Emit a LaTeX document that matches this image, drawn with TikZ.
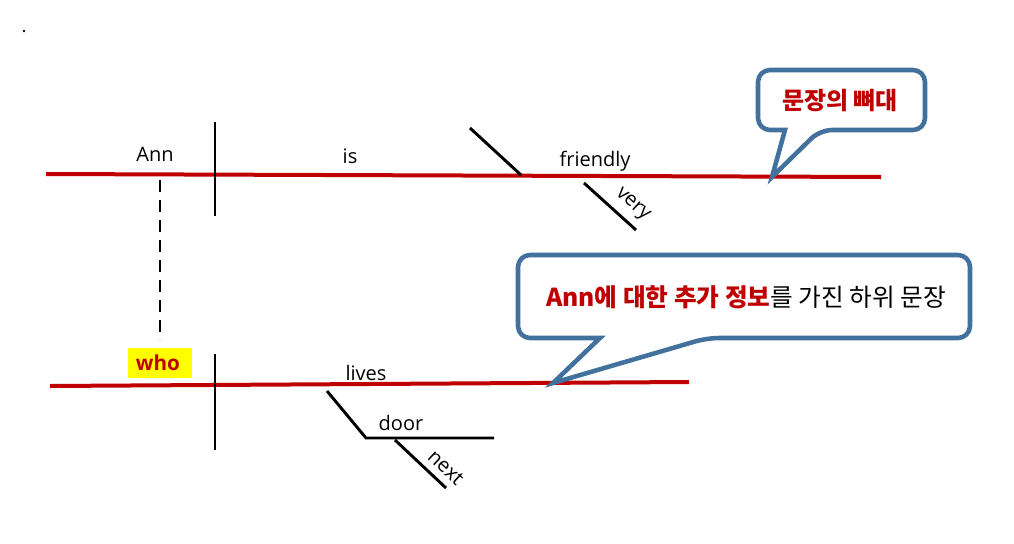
\documentclass[tikz,border=0pt]{standalone}
\usepackage{fontspec}
\setmainfont{Open Sans}
\newfontfamily\kr{Noto Sans CJK KR}
\definecolor{dred}{RGB}{192,0,0}
\definecolor{cblue}{RGB}{65,113,156}
\definecolor{hl}{RGB}{255,255,0}
\begin{document}
\begin{tikzpicture}[x=0.75pt,y=-0.75pt,
  base/.style={dred,line width=3pt},
  mod/.style={black,line width=2.2pt},
  lbl/.style={font=\fontsize{15}{18}\selectfont, inner sep=0pt},
  callout/.style={draw=cblue, fill=white, line width=3.4pt, line join=miter},
  ctext/.style={font=\kr\fontsize{18.5}{22}\selectfont, inner sep=0pt}]
\useasboundingbox (0,0) rectangle (1014,543);
\fill (24,31) circle (1.4);
% main clause
\coordinate (t0) at (46,174); \coordinate (t1) at (881,177);
\draw[base] (t0) -- (t1);
\coordinate (v1a) at (215,122); \coordinate (v1b) at (215,216);
\draw[mod] (v1a) -- (v1b);
\node[lbl, anchor=base] (ann) at (155,161) {Ann};
\node[lbl, anchor=base] (is) at (350,163) {is};
\coordinate (s1a) at (470,128); \coordinate (s1b) at (521,175);
\draw[mod] (s1a) -- (s1b);
\node[lbl, anchor=base] (friendly) at (595,166) {friendly};
\coordinate (va) at (584,183); \coordinate (vb) at (636,230);
\draw[mod] (va) -- node[lbl, sloped, above=5pt, pos=0.72] (very) {very} (vb);
% relative link
\coordinate (d0) at (160,180); \coordinate (d1) at (160,340);
\draw[mod, dash pattern=on 9pt off 6pt] (d0) -- (d1);
% relative clause
\coordinate (b0) at (50,386); \coordinate (b1) at (689,382);
\draw[base] (b0) -- (b1);
\coordinate (v2a) at (215,354); \coordinate (v2b) at (215,450);
\draw[mod] (v2a) -- (v2b);
\node[fill=hl, minimum width=48pt, minimum height=22.5pt, inner sep=0pt] (whobox) at (159.5,363) {};
\node[lbl, anchor=base, font=\fontsize{15.5}{18}\selectfont\bfseries, text=dred] (who) at (158,370.5) {who};
\node[lbl, anchor=base] (lives) at (366,380) {lives};
\coordinate (p0) at (327,391); \coordinate (p1) at (366,438); \coordinate (p2) at (494,438);
\draw[mod] (p0) -- (p1) -- (p2);
\node[lbl, anchor=base] (door) at (401,430) {door};
\coordinate (na) at (395,440); \coordinate (nb) at (446,488);
\draw[mod] (na) -- node[lbl, sloped, above=5pt, pos=0.8] (next) {next} (nb);
% callout 1
\coordinate (c1tip) at (772,177);
\draw[callout] (840,70) [rounded corners=9pt] -- (925,70) -- (925,130) -- (820,130) [sharp corners] -- (c1tip) -- (785,130) [rounded corners=9pt] -- (758,130) -- (758,70) -- cycle;
\node[ctext, font=\kr\fontsize{18}{21}\selectfont\bfseries, text=dred] (c1t) at (840,101) {문장의 뼈대};
% callout 2
\coordinate (c2tip) at (553,383);
\draw[callout] (740,255) [rounded corners=9pt] -- (970,255) -- (970,338) -- (707,338) [sharp corners] -- (c2tip) -- (600,338) [rounded corners=9pt] -- (518,338) -- (518,255) -- cycle;
\node[ctext] (c2t) at (746,297) {\textcolor{dred}{\bfseries Ann에 대한 추가 정보}를 가진 하위 문장};
\end{tikzpicture}
\end{document}
